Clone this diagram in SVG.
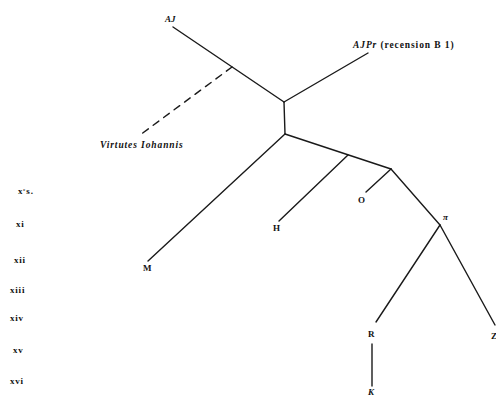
<svg xmlns="http://www.w3.org/2000/svg" width="496" height="396" viewBox="0 0 496 396">
<style>
.e{stroke:#1a1a1a;stroke-width:1.4;fill:none;stroke-linecap:round}
.d{stroke-dasharray:7,6}
text{font-family:"Liberation Serif","Times New Roman",serif;font-weight:bold;fill:#111;font-size:9px}
.i{font-style:italic}
.c{font-size:9px;letter-spacing:0.8px}
.w{font-size:9.5px;letter-spacing:0.9px}
</style>
<rect width="496" height="396" fill="#fff"/>
<g id="connectors">
<line class="e" x1="173" y1="27" x2="284" y2="102"/>
<line class="e d" x1="232" y1="67" x2="140" y2="135"/>
<line class="e" x1="284" y1="102" x2="368" y2="53"/>
<line class="e" x1="284" y1="102" x2="285" y2="134"/>
<line class="e" x1="285" y1="134" x2="148" y2="261"/>
<line class="e" x1="285" y1="134" x2="391" y2="169"/>
<line class="e" x1="348" y1="155" x2="279" y2="221"/>
<line class="e" x1="391" y1="169" x2="366" y2="192"/>
<line class="e" x1="391" y1="169" x2="440" y2="225"/>
<line class="e" x1="440" y1="225" x2="376" y2="322"/>
<line class="e" x1="440" y1="225" x2="495" y2="325"/>
<line class="e" x1="372" y1="344" x2="372" y2="386"/>
</g>
<g id="AJ"><text class="i" x="165" y="22">AJ</text></g>
<g id="AJPr"><text class="w" x="353" y="48"><tspan class="i">AJPr</tspan> (recension B 1)</text></g>
<g id="Virtutes"><text class="i w" x="100" y="148">Virtutes Iohannis</text></g>
<g id="M"><text x="143" y="271">M</text></g>
<g id="H"><text x="273" y="231">H</text></g>
<g id="O"><text x="358" y="203">O</text></g>
<g id="pi"><text class="i" x="443" y="220">π</text></g>
<g id="R"><text x="368" y="337">R</text></g>
<g id="Z"><text x="491" y="339">Z</text></g>
<g id="K"><text class="i" x="368" y="395" font-size="8">K</text></g>
<g id="centuries">
<text class="c" x="18" y="194">x<tspan dy="-3" font-size="5">e</tspan><tspan dy="3">s.</tspan></text>
<text class="c" x="16" y="227">xi</text>
<text class="c" x="14" y="263">xii</text>
<text class="c" x="10" y="293">xiii</text>
<text class="c" x="10" y="321">xiv</text>
<text class="c" x="13" y="353">xv</text>
<text class="c" x="10" y="384">xvi</text>
</g>
</svg>
